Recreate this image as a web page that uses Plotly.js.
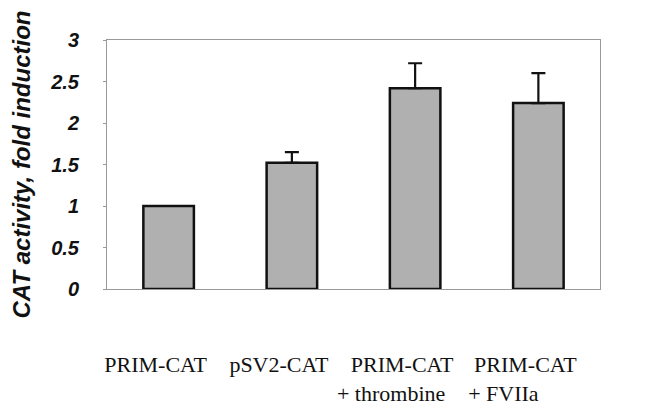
<!DOCTYPE html>
<html>
<head>
<meta charset="utf-8">
<script src="https://cdn.plot.ly/plotly-3.0.1.min.js"></script>
<style>html,body{margin:0;padding:0;background:#fff;}#chart{width:662px;height:409px;}</style>
</head>
<body>
<div id="chart"></div>
<script>
var categories = ["PRIM-CAT", "pSV2-CAT", "PRIM-CAT<br>+ thrombine&nbsp;&nbsp;&nbsp;&nbsp;", "PRIM-CAT<br>+ FVIIa&nbsp;&nbsp;&nbsp;&nbsp;&nbsp;&nbsp;&nbsp;&nbsp;"];
var values = [1.0, 1.52, 2.42, 2.24];
var errorsUp = [0, 0.13, 0.30, 0.36];
var yTitle = "CAT activity, fold induction";
var yTickVals = [0, 0.5, 1, 1.5, 2, 2.5, 3];
var yTickText = ["0", "0.5", "1", "1.5", "2", "2.5", "3"];

var trace = {
  type: "bar",
  x: categories,
  y: values,
  marker: {color: "#b0b0b0", line: {color: "#111", width: 2.5}},
  error_y: {type: "data", array: errorsUp, arrayminus: [0,0,0,0], symmetric: false, color: "#111", thickness: 2.2, width: 7},
  hoverinfo: "none"
};

var layout = {
  width: 662, height: 409,
  margin: {l: 107, r: 62, t: 40, b: 120},
  paper_bgcolor: "#fff", plot_bgcolor: "#fff",
  showlegend: false,
  bargap: 0.59,
  xaxis: {
    type: "category",
    showline: true, linecolor: "#999", linewidth: 1, mirror: true,
    showgrid: false, zeroline: false, ticks: "",
    tickangle: 0, automargin: false,
    ticklabelstandoff: 56, ticklabelshift: -13,
    tickfont: {family: "Liberation Serif, Times New Roman, serif", size: 22, color: "#111"}
  },
  yaxis: {
    range: [0, 3], tickvals: yTickVals, ticktext: yTickText,
    showline: true, linecolor: "#999", linewidth: 1, mirror: true,
    showgrid: false, zeroline: false,
    ticks: "outside", ticklen: 3, tickwidth: 1, tickcolor: "#999",
    ticklabelstandoff: 20,
    tickfont: {family: "Liberation Sans, Arial, sans-serif", size: 20, color: "#111", weight: "bold", style: "italic"},
    title: {text: yTitle, standoff: 12, font: {family: "Liberation Sans, Arial, sans-serif", size: 24, color: "#111", weight: "bold", style: "italic"}}
  }
};

Plotly.newPlot("chart", [trace], layout, {staticPlot: true, displayModeBar: false});
</script>
</body>
</html>
